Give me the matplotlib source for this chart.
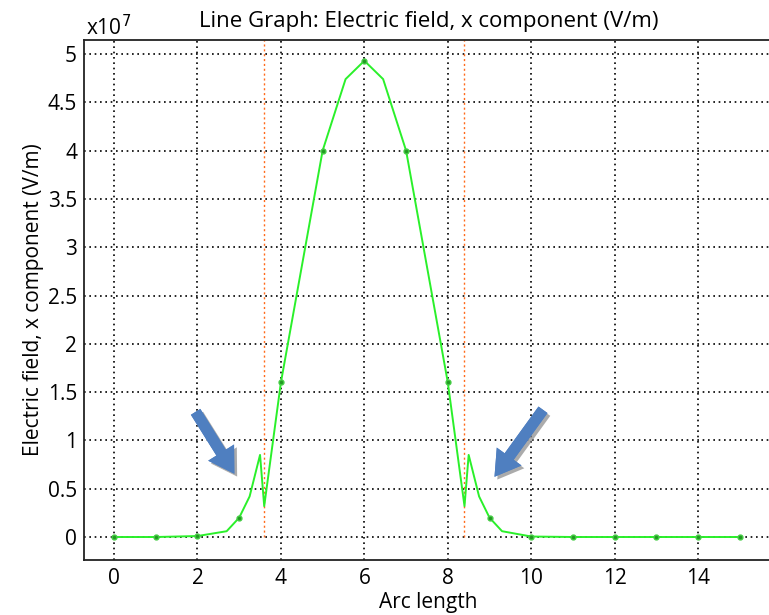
import matplotlib
matplotlib.use("Agg")
import matplotlib.pyplot as plt
import matplotlib.patheffects as pe

# Data (field in units of 1e7 V/m)
arc = [0, 1, 2, 2.7, 3, 3.25, 3.5, 3.6, 4, 5, 5.55, 6, 6.45, 7, 8, 8.4, 8.5, 8.75, 9, 9.3,
       10, 11, 12, 13, 14, 15]
field = [0, 0, 0.01, 0.06, 0.2, 0.42, 0.85, 0.32, 1.6, 4.0, 4.74, 4.93, 4.74, 4.0, 1.6, 0.32,
         0.85, 0.42, 0.2, 0.06, 0.005, 0, 0, 0, 0, 0]
boundaries = [3.6, 8.4]
x_ticks = [0, 2, 4, 6, 8, 10, 12, 14]
y_ticks = [0, 0.5, 1, 1.5, 2, 2.5, 3, 3.5, 4, 4.5, 5]
y_tick_labels = ["0", "0.5", "1", "1.5", "2", "2.5", "3", "3.5", "4", "4.5", "5"]
arrow_tails = [(1.92, 1.32), (10.32, 1.34)]
arrow_heads = [(2.92, 0.63), (9.08, 0.6)]

plt.rcParams['font.family'] = ['Open Sans', 'DejaVu Sans']

fig = plt.figure(figsize=(7.69, 6.15), dpi=100)
ax = fig.add_axes([84/769, 1-560/615, 1-84/769 + 0.005, (560-40)/615])

ax.set_xlim(-0.719, 15.79)
ax.set_ylim(-0.238, 5.145)

ax.set_xticks(x_ticks)
ax.set_yticks(y_ticks)
ax.set_yticklabels(y_tick_labels)
ax.grid(True, color='black', linestyle=(0, (1, 2.2)), linewidth=1.2)
ax.tick_params(direction='in', length=0, labelsize=15)
ax.tick_params(axis='x', pad=6)
ax.tick_params(axis='y', pad=5)

ax.vlines(boundaries, 0, 5.145, colors='#ff6a1a', linestyles=(0, (1.5, 2)), linewidth=1.0, zorder=2)

marker_idx = [i for i, a in enumerate(arc) if float(a).is_integer()]
ax.plot(arc, field, color='#2af02a', linewidth=1.4, zorder=3,
        marker='o', markersize=3.5, markerfacecolor='#229922', markeredgecolor='#44cc44',
        markevery=marker_idx)

for tail, head in zip(arrow_tails, arrow_heads):
    ax.annotate('', xy=head, xytext=tail,
                arrowprops=dict(arrowstyle='simple,head_length=1.8,head_width=2.2,tail_width=0.8',
                                mutation_scale=10, fc='#4f7fc0', ec='none',
                                path_effects=[pe.withSimplePatchShadow(offset=(2, -2), shadow_rgbFace='#888888', alpha=0.7),
                                              pe.Normal()]),
                zorder=5)

for s in ['left', 'top', 'bottom']:
    ax.spines[s].set_linewidth(1.3)
    ax.spines[s].set_color('#222222')
ax.spines['right'].set_visible(False)

ax.set_xlabel('Arc length', fontsize=15, labelpad=2)
ax.set_ylabel('Electric field, x component (V/m)', fontsize=15, labelpad=3)
ax.set_title('Line Graph: Electric field, x component (V/m)', fontsize=16, pad=9)
fig.text(86/769, 1-35/615, r'x10$^7$', fontsize=15, ha='left', va='baseline')

fig.savefig('out.png', dpi=100)
